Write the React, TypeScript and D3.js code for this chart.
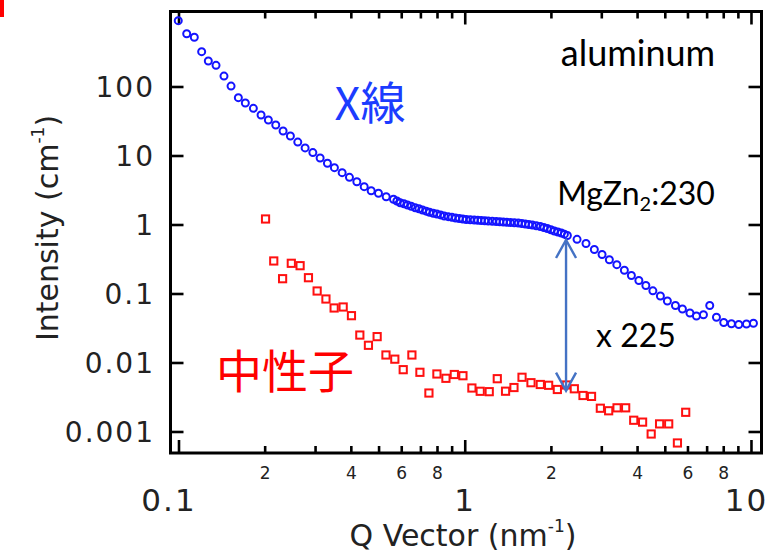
import React from "react";
import * as d3 from "d3";

// X-ray SAXS curve [Q (nm^-1), I (cm^-1)]
const xray: [number, number][] = [
  [0.0994, 914], [0.1064, 592], [0.1131, 525], [0.12, 325], [0.1266, 238],
  [0.1347, 206], [0.1436, 144], [0.152, 103], [0.1612, 70.0], [0.1705, 58.6],
  [0.1819, 49.1], [0.1935, 39.3], [0.2052, 33.2], [0.2178, 28.1], [0.231, 23.0],
  [0.245, 19.5], [0.26, 15.9], [0.2758, 13.1], [0.2935, 11.2], [0.3112, 9.35],
  [0.33, 7.84], [0.3491, 6.77], [0.3715, 5.73], [0.394, 4.91], [0.4181, 4.24],
  [0.4436, 3.59], [0.4692, 3.14], [0.4976, 2.88], [0.5294, 2.57], [0.5615, 2.36],
  [0.5925, 2.1], [0.6284, 1.95], [0.6686, 1.78], [0.7092, 1.65], [0.7504, 1.53],
  [0.7962, 1.44], [0.8444, 1.35], [0.8984, 1.29], [0.9528, 1.24], [1.008, 1.2],
  [1.075, 1.18], [1.137, 1.16], [1.203, 1.14], [1.283, 1.12], [1.358, 1.105],
  [1.437, 1.087], [1.532, 1.069], [1.621, 1.034], [1.715, 1.0], [1.829, 0.951],
  [1.935, 0.89], [2.047, 0.818], [2.166, 0.766], [2.274, 0.704], [2.458, 0.62],
  [2.642, 0.539], [2.825, 0.441], [3.006, 0.374], [3.188, 0.314], [3.385, 0.266],
  [3.597, 0.221], [3.806, 0.185], [4.042, 0.157], [4.276, 0.133], [4.524, 0.111],
  [4.806, 0.0935], [5.084, 0.0792], [5.424, 0.0681], [5.738, 0.0606], [6.095, 0.053],
  [6.422, 0.048], [6.795, 0.0501], [7.148, 0.0681], [7.545, 0.046], [8.001, 0.0386],
  [8.511, 0.0371], [9.028, 0.0361], [9.605, 0.0367], [10.16, 0.0376],
];

// second X-ray range overlapping in the middle
const xrayOverlap: [number, number][] = [
  [0.577, 2.23], [0.6107, 2.03], [0.6475, 1.87], [0.6889, 1.72], [0.7304, 1.585],
  [0.773, 1.48], [0.8197, 1.4], [0.872, 1.32], [0.925, 1.26], [0.98, 1.22],
  [1.041, 1.19], [1.106, 1.17], [1.17, 1.15], [1.243, 1.13], [1.32, 1.11],
  [1.397, 1.094], [1.484, 1.076], [1.576, 1.051], [1.667, 1.017], [1.771, 0.974],
  [1.882, 0.92], [1.991, 0.852], [2.106, 0.792], [2.22, 0.736],
];

// neutron SANS curve
const neutron: [number, number][] = [
  [0.2006, 1.222], [0.2143, 0.301], [0.2301, 0.1666], [0.2468, 0.2786], [0.2649, 0.2572],
  [0.2833, 0.1722], [0.3038, 0.1105], [0.3261, 0.0846], [0.3483, 0.0627], [0.3746, 0.0648],
  [0.4004, 0.0485], [0.4283, 0.0254], [0.459, 0.01805], [0.4923, 0.0241], [0.5285, 0.01306],
  [0.5675, 0.01136], [0.6072, 0.008], [0.6511, 0.01306], [0.6945, 0.00733], [0.7467, 0.00367],
  [0.7962, 0.00693], [0.8561, 0.006], [0.916, 0.00681], [0.9817, 0.00654], [1.055, 0.00434],
  [1.128, 0.00389], [1.213, 0.00384], [1.294, 0.00592], [1.383, 0.0039], [1.48, 0.00441],
  [1.579, 0.00621], [1.697, 0.00518], [1.829, 0.00488], [1.956, 0.00475], [2.098, 0.00413],
  [2.255, 0.0048], [2.405, 0.00423], [2.579, 0.00338], [2.762, 0.00328], [2.965, 0.00221],
  [3.17, 0.00203], [3.391, 0.00224], [3.635, 0.00224], [3.878, 0.00148], [4.165, 0.00139],
  [4.463, 0.000935], [4.775, 0.00131], [5.138, 0.00131], [5.512, 0.000693], [5.892, 0.00193],
];

const xMajor = [0.1, 1, 10];
const xMajorLabels = ["0.1", "1", "10"];
const xMinor = [0.2, 0.3, 0.4, 0.5, 0.6, 0.7, 0.8, 0.9, 2, 3, 4, 5, 6, 7, 8, 9];
const xMinorLabeled = [0.2, 0.4, 0.6, 0.8, 2, 4, 6, 8];
const yMajor = [0.001, 0.01, 0.1, 1, 10, 100];
const yLabels = ["0.001", "0.01", "0.1", "1", "10", "100"];

// arrow between the curves at Q ~ 2.25, ratio x 225
const arrowQ = 2.25;
const arrowTop = 0.606;
const arrowBottom = 0.00397;

const W = 771;
const H = 554;
const left = 170.5, right = 761.5, top = 11.5, bottom = 453;

const tickFont = "'DejaVu Sans', Verdana, sans-serif";
const noteFont = "Lato, 'Open Sans', sans-serif";
const cjkFont = "'Noto Sans CJK JP', 'Noto Sans CJK SC', sans-serif";
const labelShift: Record<string, number> = { "0.1": -10, "1": 0, "10": -5 };

export default function App() {
  const x = d3.scaleLog().domain([0.09339, 10.84]).range([left, right]);
  const y = d3.scaleLog().domain([0.000496, 1242]).range([bottom, top]);

  const ax = x(arrowQ);
  const ay1 = y(arrowTop);
  const ay2 = y(arrowBottom);

  return (
    <svg width={W} height={H} style={{ position: "absolute", left: 0, top: 0, background: "white" }}>
      <rect x={0} y={0} width={W} height={H} fill="white" />
      <rect x={0} y={0} width={4} height={17} fill="#ff0000" />

      {/* x ticks, bottom and top */}
      {xMajor.map((v) => (
        <g key={"xM" + v} stroke="#000" strokeWidth={2.6}>
          <line x1={x(v)} x2={x(v)} y1={bottom} y2={bottom - 13} />
          <line x1={x(v)} x2={x(v)} y1={top} y2={top + 13} />
        </g>
      ))}
      {xMinor.map((v) => (
        <g key={"xm" + v} stroke="#000" strokeWidth={2.6}>
          <line x1={x(v)} x2={x(v)} y1={bottom} y2={bottom - 7} />
          <line x1={x(v)} x2={x(v)} y1={top} y2={top + 7} />
        </g>
      ))}
      {/* y ticks, left and right */}
      {yMajor.map((v) => (
        <g key={"yM" + v} stroke="#000" strokeWidth={2.6}>
          <line x1={left} x2={left + 13} y1={y(v)} y2={y(v)} />
          <line x1={right} x2={right - 13} y1={y(v)} y2={y(v)} />
        </g>
      ))}

      <rect x={left} y={top} width={right - left} height={bottom - top} fill="none" stroke="#000" strokeWidth={3} />

      {/* tick labels */}
      {yMajor.map((v, i) => (
        <text key={"yl" + v} x={155} y={y(v) + 10.5} textAnchor="end" fontFamily={tickFont} fontSize={28}
          letterSpacing={2} fill="#222">
          {yLabels[i]}
        </text>
      ))}
      {xMajor.map((v, i) => (
        <text key={"xl" + v} x={x(v) + labelShift[xMajorLabels[i]]} y={511} textAnchor="middle" fontFamily={tickFont}
          fontSize={31} letterSpacing={2} fill="#222">
          {xMajorLabels[i]}
        </text>
      ))}
      {xMinorLabeled.map((v) => (
        <text key={"xs" + v} x={x(v)} y={479} textAnchor="middle" fontFamily={tickFont} fontSize={17} fill="#222">
          {Math.round(v < 1 ? v * 10 : v)}
        </text>
      ))}

      {/* axis titles */}
      <text x={463} y={546} textAnchor="middle" fontFamily={tickFont} fontSize={30} fill="#222">
        Q Vector (nm<tspan fontSize={17} dy={-14}>-1</tspan><tspan dy={14}>)</tspan>
      </text>
      <text transform={`translate(58,228) rotate(-90)`} textAnchor="middle" fontFamily={tickFont} fontSize={30} fill="#222">
        Intensity (cm<tspan fontSize={17} dy={-14}>-1</tspan><tspan dy={14}>)</tspan>
      </text>

      {/* data */}
      <g fill="none" stroke="#1414ff" strokeWidth={2}>
        {xrayOverlap.map((d, i) => (
          <circle key={"o" + i} cx={x(d[0])} cy={y(d[1])} r={3.5} />
        ))}
        {xray.map((d, i) => (
          <circle key={"x" + i} cx={x(d[0])} cy={y(d[1])} r={3.5} />
        ))}
      </g>
      <g fill="none" stroke="#ff1010" strokeWidth={2}>
        {neutron.map((d, i) => (
          <rect key={"n" + i} x={x(d[0]) - 3.6} y={y(d[1]) - 3.6} width={7.2} height={7.2} />
        ))}
      </g>

      {/* arrow */}
      <g stroke="#4472c4" strokeWidth={2.4} fill="none">
        <line x1={ax} x2={ax} y1={ay1} y2={ay2} />
        <polyline points={`${ax - 10},${ay1 + 18} ${ax},${ay1} ${ax + 10},${ay1 + 18}`} />
        <polyline points={`${ax - 10},${ay2 - 18} ${ax},${ay2} ${ax + 10},${ay2 - 18}`} />
      </g>

      {/* annotations */}
      <text x={638} y={66} textAnchor="middle" fontFamily={noteFont} fontSize={36} fill="#000">aluminum</text>
      <text x={636} y={205} textAnchor="middle" fontFamily={noteFont} fontSize={32} fill="#000">
        MgZn<tspan fontSize={20} dy={6}>2</tspan><tspan dy={-6}>:230</tspan>
      </text>
      <text x={636} y={347} textAnchor="middle" fontFamily={noteFont} fontSize={32} fill="#000">x 225</text>
      <text x={370} y={120} textAnchor="middle" fontFamily={cjkFont} fontSize={45} fill="#1c3cff">X線</text>
      <text x={285} y={388} textAnchor="middle" fontFamily={cjkFont} fontSize={46} fill="#ff0000">中性子</text>
    </svg>
  );
}
